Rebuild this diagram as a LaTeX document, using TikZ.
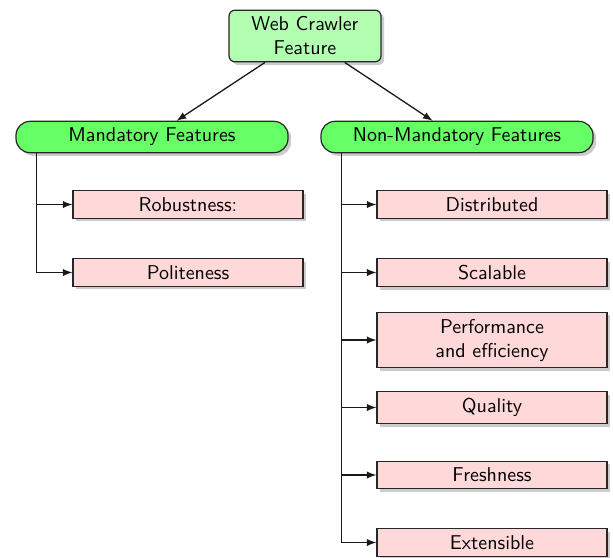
\documentclass[tikz,border=0pt]{standalone}
\usepackage{fontspec}
\usetikzlibrary{shadows,arrows}
\begin{document}
\begin{tikzpicture}[x=0.5pt,y=-0.5pt,font=\sffamily,line width=0.6pt,
  shadowed/.style={drop shadow={shadow xshift=1.6pt,shadow yshift=-1.6pt,opacity=0.4}},
  rootbox/.style={draw=black!85,fill=green!30,rounded corners=3pt,minimum width=76pt,align=center,shadowed},
  catbox/.style={draw=black!85,fill=green!60,rounded corners=7pt,minimum width=136pt,shadowed},
  leafbox/.style={draw=black!85,fill=red!15,minimum width=115pt,align=center,shadowed},
  conn/.style={-latex,black!90,line width=0.65pt}]
\useasboundingbox (0,0) rectangle (613,557);
\node[rootbox] (root) at (305,36) {Web Crawler\\Feature};
\node[catbox] (mand) at (152,137) {Mandatory Features};
\node[catbox] (nonm) at (457,137) {Non-Mandatory Features};
\node[leafbox] (rob) at (188,204.5) {Robustness:};
\node[leafbox] (pol) at (188,272.5) {Politeness};
\node[leafbox] (dis) at (492,204.5) {Distributed};
\node[leafbox] (sca) at (492,272.5) {Scalable};
\node[leafbox] (per) at (492,340) {Performance\\and efficiency};
\node[leafbox] (qua) at (492,407.5) {Quality};
\node[leafbox] (fre) at (492,475) {Freshness};
\node[leafbox] (ext) at (492,542.5) {Extensible};
\draw[conn] (root) -- (mand);
\draw[conn] (root) -- (nonm);
\foreach \t in {rob,pol}
  \draw[conn] ([xshift=10.5pt]mand.south west) |- (\t.west);
\foreach \t in {dis,sca,per,qua,fre,ext}
  \draw[conn] ([xshift=10.5pt]nonm.south west) |- (\t.west);
\end{tikzpicture}
\end{document}
